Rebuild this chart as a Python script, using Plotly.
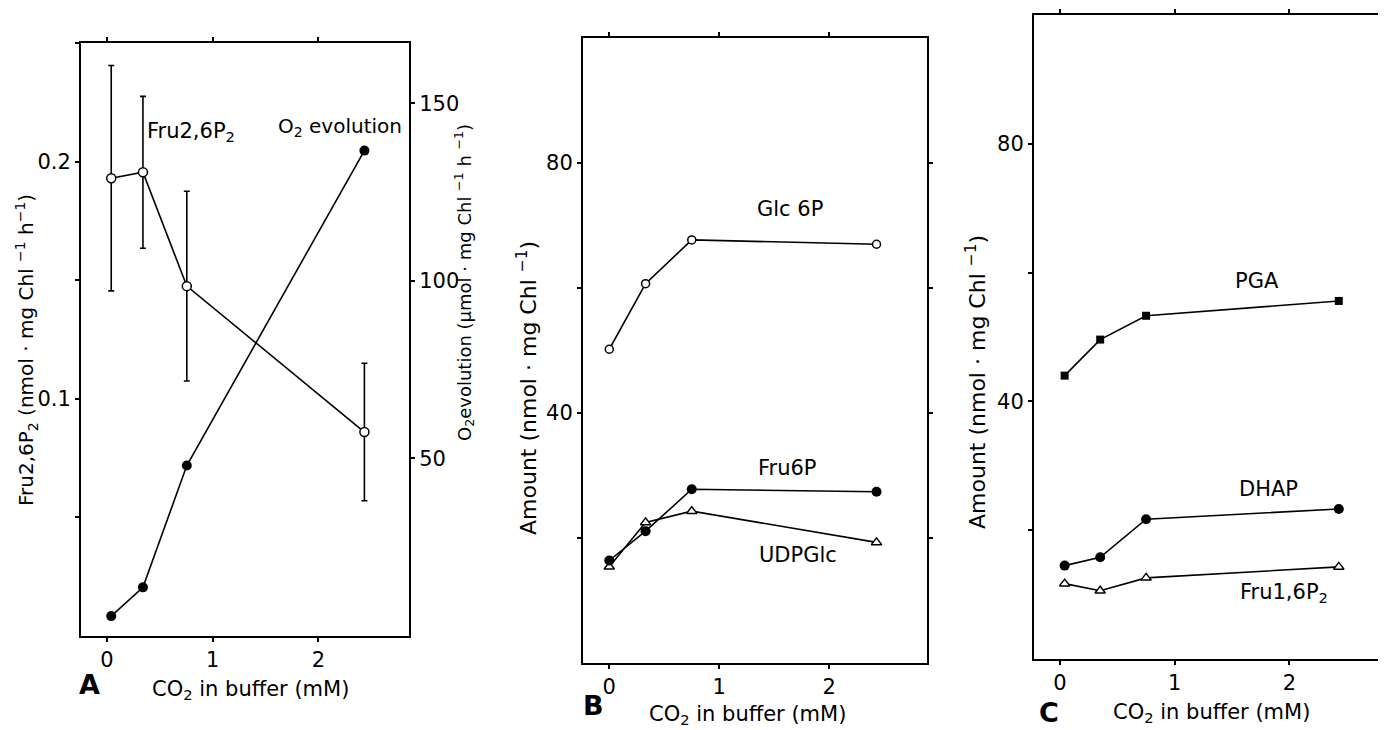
import plotly.graph_objects as go

# ---------------- data ----------------
# Panel A
co2_a = [0.04, 0.34, 0.755, 2.435]
fru26p2 = [0.193, 0.1955, 0.1475, 0.086]
fru26p2_err = [0.0475, 0.032, 0.040, 0.029]
o2_evolution = [5.6, 13.7, 48.0, 136.7]

# Panel B
co2_b = [0.0, 0.33, 0.75, 2.43]
glc6p = [50.2, 60.7, 67.7, 67.0]
fru6p = [16.4, 21.1, 27.8, 27.4]
udpglc = [15.4, 22.5, 24.3, 19.3]

# Panel C
co2_c = [0.04, 0.35, 0.75, 2.43]
pga = [44.0, 49.6, 53.3, 55.6]
dhap = [14.5, 15.8, 21.7, 23.3]
fru16p2 = [11.7, 10.6, 12.6, 14.3]

x_ticks = [0, 1, 2]
x_ticktext = ["0", "1", "2"]
a_left_ticks = [0.05, 0.1, 0.15, 0.2, 0.25]
a_left_text = ["", "0.1", "", "0.2", ""]
a_right_ticks = [50, 100, 150]
amount_ticks = [20, 40, 60, 80]
amount_text = ["", "40", "", "80"]

FONT = "DejaVu Sans"
BLACK = "black"
W, H = 1386, 730
OFF = 8  # page body margin of the written html


def px_x(a, b):
    return [(a - OFF) / W, (b - OFF) / W]


def px_y(top, bottom):
    return [1 - (bottom - OFF) / H, 1 - (top - OFF) / H]


def pap(xp, yp):
    return (xp - OFF) / W, 1 - (yp - OFF) / H


fig = go.Figure()

line = dict(color=BLACK, width=1.6)

# Panel A traces
fig.add_trace(go.Scatter(
    x=co2_a, y=fru26p2, xaxis="x", yaxis="y", mode="lines+markers",
    line=line,
    marker=dict(symbol="circle", size=9, color="white", line=dict(color=BLACK, width=1.5)),
    error_y=dict(type="data", array=fru26p2_err, visible=True, color=BLACK, thickness=1.6, width=3),
    showlegend=False))
fig.add_trace(go.Scatter(
    x=co2_a, y=o2_evolution, xaxis="x", yaxis="y2", mode="lines+markers",
    line=line, marker=dict(symbol="circle", size=10, color=BLACK),
    showlegend=False))

# Panel B traces
fig.add_trace(go.Scatter(
    x=co2_b, y=glc6p, xaxis="x2", yaxis="y3", mode="lines+markers", line=line,
    marker=dict(symbol="circle", size=8, color="white", line=dict(color=BLACK, width=1.5)),
    showlegend=False))
fig.add_trace(go.Scatter(
    x=co2_b, y=udpglc, xaxis="x2", yaxis="y3", mode="lines+markers", line=line,
    marker=dict(symbol="triangle-up", size=9, color="white", line=dict(color=BLACK, width=1.5)),
    showlegend=False))
fig.add_trace(go.Scatter(
    x=co2_b, y=fru6p, xaxis="x2", yaxis="y3", mode="lines+markers", line=line,
    marker=dict(symbol="circle", size=10, color=BLACK),
    showlegend=False))

# Panel C traces
fig.add_trace(go.Scatter(
    x=co2_c, y=pga, xaxis="x3", yaxis="y4", mode="lines+markers", line=line,
    marker=dict(symbol="square", size=8, color=BLACK),
    showlegend=False))
fig.add_trace(go.Scatter(
    x=co2_c, y=dhap, xaxis="x3", yaxis="y4", mode="lines+markers", line=line,
    marker=dict(symbol="circle", size=10, color=BLACK),
    showlegend=False))
fig.add_trace(go.Scatter(
    x=co2_c, y=fru16p2, xaxis="x3", yaxis="y4", mode="lines+markers", line=line,
    marker=dict(symbol="triangle-up", size=9, color="white", line=dict(color=BLACK, width=1.5)),
    showlegend=False))

tickfont = dict(family=FONT, size=21, color=BLACK)
axis_common = dict(showgrid=False, zeroline=False, showline=True, linecolor=BLACK, linewidth=2,
                   ticks="outside", ticklen=4, tickwidth=1.5, tickcolor=BLACK, tickfont=tickfont,
                   automargin=False)

fig.update_layout(
    width=W, height=H, margin=dict(l=0, r=0, t=0, b=0, pad=0, autoexpand=False),
    paper_bgcolor="white", plot_bgcolor="white",
    font=dict(family=FONT, color=BLACK),
    xaxis=dict(domain=px_x(81, 409), range=[-0.246, 2.857], anchor="y",
               tickvals=x_ticks, ticktext=x_ticktext, mirror="ticks", **axis_common),
    yaxis=dict(domain=px_y(43, 636), range=[0, 0.25], anchor="x",
               tickvals=a_left_ticks, ticktext=a_left_text, mirror=False, **axis_common),
    yaxis2=dict(range=[0, 167], overlaying="y", side="right", anchor="x",
                tickvals=a_right_ticks, **axis_common),
    xaxis2=dict(domain=px_x(583, 927), range=[-0.239, 2.889], anchor="y3",
                tickvals=x_ticks, ticktext=x_ticktext, mirror="ticks", **axis_common),
    yaxis3=dict(domain=px_y(38, 663), range=[0, 100], anchor="x2",
                tickvals=amount_ticks, ticktext=amount_text, mirror="ticks", **axis_common),
    xaxis3=dict(domain=px_x(1034, 1384), range=[-0.227, 2.824], anchor="y4",
                tickvals=x_ticks, ticktext=x_ticktext, mirror="ticks", **axis_common),
    yaxis4=dict(domain=px_y(15, 659), range=[0, 100], anchor="x3",
                tickvals=amount_ticks, ticktext=amount_text, mirror="ticks", **axis_common),
)

lab = dict(family=FONT, size=21, color=BLACK)
lab_o2 = dict(family=FONT, size=20, color=BLACK)
letter = dict(family=FONT, size=27, color=BLACK)

ann = []
# Series labels (data coordinates)
ann.append(dict(x=0.36, y=0.2125, xref="x", yref="y", text="Fru2,6P<sub>2</sub>",
                xanchor="left", yanchor="middle", showarrow=False, font=lab))
ann.append(dict(x=1.6, y=0.2145, xref="x", yref="y", text="O<sub>2</sub> evolution",
                xanchor="left", yanchor="middle", showarrow=False, font=lab_o2))
ann.append(dict(x=1.325, y=72.7, xref="x2", yref="y3", text="Glc 6P",
                xanchor="left", yanchor="middle", showarrow=False, font=lab))
ann.append(dict(x=1.334, y=31.2, xref="x2", yref="y3", text="Fru6P",
                xanchor="left", yanchor="middle", showarrow=False, font=lab))
ann.append(dict(x=1.34, y=17.3, xref="x2", yref="y3", text="UDPGlc",
                xanchor="left", yanchor="middle", showarrow=False, font=lab))
ann.append(dict(x=1.51, y=58.7, xref="x3", yref="y4", text="PGA",
                xanchor="left", yanchor="middle", showarrow=False, font=lab))
ann.append(dict(x=1.54, y=26.4, xref="x3", yref="y4", text="DHAP",
                xanchor="left", yanchor="middle", showarrow=False, font=lab))
ann.append(dict(x=1.55, y=10.3, xref="x3", yref="y4", text="Fru1,6P<sub>2</sub>",
                xanchor="left", yanchor="middle", showarrow=False, font=lab))

# Axis titles
for (xp, yp, txt, ang, size) in [
    (26, 350, "Fru2,6P<sub>2</sub> (nmol · mg Chl <sup>−1</sup> h<sup>−1</sup>)", -90, 20),
    (464, 283, "O<sub>2</sub>evolution (µmol · mg Chl <sup>−1</sup> h <sup>−1</sup>)", -90, 18),
    (527, 388, "Amount (nmol · mg Chl <sup>−1</sup>)", -90, 22),
    (976, 382, "Amount (nmol · mg Chl <sup>−1</sup>)", -90, 22),
    (250, 690, "CO<sub>2</sub> in buffer (mM)", 0, 21),
    (747, 715, "CO<sub>2</sub> in buffer (mM)", 0, 21),
    (1211, 713, "CO<sub>2</sub> in buffer (mM)", 0, 21),
]:
    px, py = pap(xp, yp)
    ann.append(dict(x=px, y=py, xref="paper", yref="paper", text=txt, textangle=ang,
                    xanchor="center", yanchor="middle", showarrow=False,
                    font=dict(family=FONT, size=size, color=BLACK)))

# Panel letters
for (xp, yp, txt) in [(89, 684, "A"), (593, 705, "B"), (1049, 712, "C")]:
    px, py = pap(xp, yp)
    ann.append(dict(x=px, y=py, xref="paper", yref="paper", text="<b>%s</b>" % txt,
                    xanchor="center", yanchor="middle", showarrow=False, font=letter))

fig.update_layout(annotations=ann)
fig.write_html("out.html")
